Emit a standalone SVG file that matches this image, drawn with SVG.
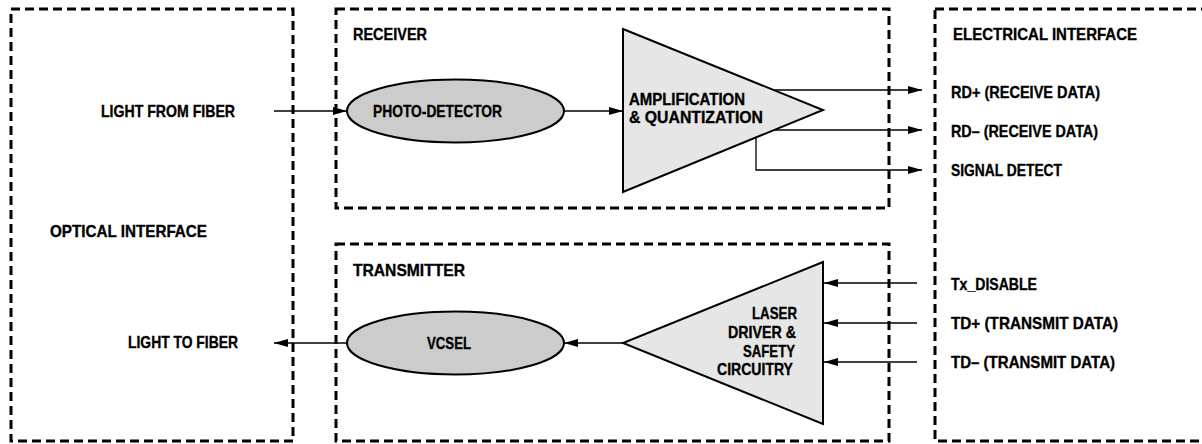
<svg xmlns="http://www.w3.org/2000/svg" width="1202" height="444" viewBox="0 0 1202 444">
<defs>
<marker id="ah" markerUnits="userSpaceOnUse" markerWidth="14" markerHeight="10" refX="14" refY="5" orient="auto">
<path d="M0,1 L14,5 L0,9 z" fill="#000"/>
</marker>
<style>
.box{fill:none;stroke:#000;stroke-width:3;stroke-dasharray:9 5}
.t{font-family:"Liberation Sans",Arial,sans-serif;font-weight:bold;font-size:16.5px;fill:#000;stroke:#000;stroke-width:0.35}
.ell{fill:#cccccc;stroke:#000;stroke-width:2}
.tri{fill:#e6e6e6;stroke:#000;stroke-width:2}
.c{fill:none;stroke:#000;stroke-width:1.3}
</style>
</defs>
<rect width="1202" height="444" fill="#fff"/>
<g id="optical-interface">
<rect class="box" x="11" y="9" width="282" height="432"/>
<text class="t" x="50" y="237" textLength="157" lengthAdjust="spacingAndGlyphs">OPTICAL INTERFACE</text>
<text class="t" x="101" y="117" textLength="134" lengthAdjust="spacingAndGlyphs">LIGHT FROM FIBER</text>
<text class="t" x="128" y="348" textLength="110" lengthAdjust="spacingAndGlyphs">LIGHT TO FIBER</text>
</g>
<g id="receiver">
<rect class="box" x="336" y="9" width="553" height="199"/>
<text class="t" x="353" y="40" textLength="74" lengthAdjust="spacingAndGlyphs">RECEIVER</text>
</g>
<g id="photo-detector">
<ellipse class="ell" cx="455.5" cy="111" rx="108.5" ry="31.5"/>
<text class="t" x="373" y="117" textLength="129" lengthAdjust="spacingAndGlyphs">PHOTO-DETECTOR</text>
</g>
<g id="amplifier">
<polygon class="tri" points="623,29 823,110 623,192"/>
<text class="t" x="629" y="105" textLength="116" lengthAdjust="spacingAndGlyphs">AMPLIFICATION</text>
<text class="t" x="629" y="123" textLength="134" lengthAdjust="spacingAndGlyphs">&amp; QUANTIZATION</text>
</g>
<g id="transmitter">
<rect class="box" x="336" y="244" width="553" height="197"/>
<text class="t" x="353" y="276" textLength="112" lengthAdjust="spacingAndGlyphs">TRANSMITTER</text>
</g>
<g id="vcsel">
<ellipse class="ell" cx="455.5" cy="343" rx="108.5" ry="31.5"/>
<text class="t" x="427" y="349" textLength="44" lengthAdjust="spacingAndGlyphs">VCSEL</text>
</g>
<g id="laser-driver">
<polygon class="tri" points="823,262 623,343 823,424"/>
<text class="t" x="752" y="319" textLength="45" lengthAdjust="spacingAndGlyphs">LASER</text>
<text class="t" x="728" y="338" textLength="68" lengthAdjust="spacingAndGlyphs">DRIVER &amp;</text>
<text class="t" x="743" y="357" textLength="52" lengthAdjust="spacingAndGlyphs">SAFETY</text>
<text class="t" x="717" y="375" textLength="76" lengthAdjust="spacingAndGlyphs">CIRCUITRY</text>
</g>
<g id="electrical-interface">
<rect class="box" x="935" y="9" width="280" height="432"/>
<text class="t" x="953" y="40" textLength="184" lengthAdjust="spacingAndGlyphs">ELECTRICAL INTERFACE</text>
<text class="t" x="951" y="98" textLength="149" lengthAdjust="spacingAndGlyphs">RD+ (RECEIVE DATA)</text>
<text class="t" x="951" y="137" textLength="147" lengthAdjust="spacingAndGlyphs">RD– (RECEIVE DATA)</text>
<text class="t" x="951" y="176" textLength="111" lengthAdjust="spacingAndGlyphs">SIGNAL DETECT</text>
<text class="t" x="951" y="290" textLength="86" lengthAdjust="spacingAndGlyphs">Tx_DISABLE</text>
<text class="t" x="951" y="329" textLength="167" lengthAdjust="spacingAndGlyphs">TD+ (TRANSMIT DATA)</text>
<text class="t" x="951" y="368" textLength="164" lengthAdjust="spacingAndGlyphs">TD– (TRANSMIT DATA)</text>
</g>
<g id="connectors">
<line class="c" x1="274" y1="111" x2="347" y2="111" marker-end="url(#ah)"/>
<line class="c" x1="564" y1="111" x2="623" y2="111" marker-end="url(#ah)"/>
<line class="c" x1="774" y1="90" x2="922" y2="90" marker-end="url(#ah)"/>
<line class="c" x1="774" y1="130" x2="922" y2="130" marker-end="url(#ah)"/>
<polyline class="c" points="756,138 756,170 922,170" marker-end="url(#ah)"/>
<line class="c" x1="917" y1="283" x2="824" y2="283" marker-end="url(#ah)"/>
<line class="c" x1="917" y1="323" x2="824" y2="323" marker-end="url(#ah)"/>
<line class="c" x1="917" y1="362" x2="824" y2="362" marker-end="url(#ah)"/>
<line class="c" x1="623" y1="343" x2="564" y2="343" marker-end="url(#ah)"/>
<line class="c" x1="347" y1="343" x2="274" y2="343" marker-end="url(#ah)"/>
</g>
</svg>
